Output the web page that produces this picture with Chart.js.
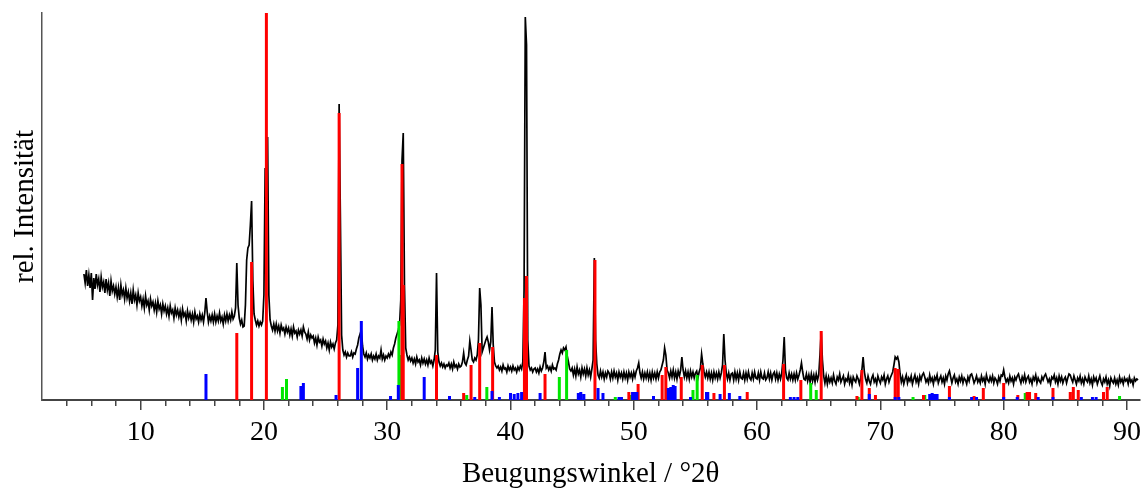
<!DOCTYPE html>
<html><head><meta charset="utf-8">
<script src="https://cdn.jsdelivr.net/npm/chart.js@4.4.1/dist/chart.umd.min.js"></script>
<style>html,body{margin:0;padding:0;background:#fff;}canvas{display:block;}</style>
</head><body>
<canvas id="c" width="1147" height="492"></canvas>
<script>
// Measured scan: start angle and step (°2θ), intensities in arbitrary units
const scanStart = 5.4;
const scanStep = 0.1;
const scanIntensity = [
 126,117,130,114,125,112,
 127,100,122,111,126,115,121,108,123,113,
 118,107,121,110,117,104,119,109,114,106,
 113,103,112,100,115,105,110,101,112,102,
 108,99,107,96,110,100,105,95,107,99,
 103,94,101,92,104,95,99,90,101,94,
 98,90,97,88,99,91,95,86,96,89,
 94,86,92,84,94,87,90,82,92,85,
 90,83,89,80,91,84,87,79,89,82,
 87,80,86,78,88,81,84,78,86,80,
 85,78,87,102,88,78,84,79,85,78,
 86,78,84,79,87,79,83,76,85,79,
 86,79,85,80,88,81,84,92,137,95,
 82,76,80,73,74,95,140,152,155,175,
 199,120,86,80,75,79,74,78,75,79,
 105,232,200,263,105,80,74,70,76,69,
 76,69,74,67,75,70,72,66,73,68,
 72,65,71,64,73,67,69,63,70,66,
 70,64,73,68,66,61,68,60,65,62,
 64,57,62,55,63,58,60,54,61,56,
 59,52,57,50,58,53,56,51,57,60,
 75,296,185,65,50,45,48,43,47,44,
 44,48,43,47,46,51,55,62,66,70,
 54,46,43,47,41,45,42,46,40,44,
 41,46,40,44,42,50,41,45,40,44,
 42,46,43,48,45,52,56,62,66,70,
 75,100,240,267,115,52,45,40,43,39,
 42,37,41,36,43,38,40,35,42,37,
 41,36,40,35,42,37,39,34,40,50,
 127,48,38,34,37,33,36,32,35,34,
 37,32,36,31,38,33,35,31,36,33,
 34,38,47,37,35,40,44,59,50,40,
 38,42,40,45,60,112,95,48,52,56,
 60,63,58,50,58,93,55,38,34,32,
 34,30,33,29,35,31,32,28,34,30,
 33,29,34,30,32,28,33,30,34,31,
 38,110,383,355,60,34,30,32,28,31,
 32,28,31,27,33,29,32,38,48,32,
 34,30,33,29,35,31,32,30,36,40,
 46,50,47,52,50,53,44,38,31,29,
 32,25,31,24,33,26,30,23,32,26,
 31,24,32,25,30,23,31,40,142,60,
 36,25,22,29,23,28,21,27,23,29,
 27,21,28,22,29,23,27,20,28,23,
 27,21,28,22,27,20,28,23,27,21,
 28,23,29,32,37,27,22,28,21,27,
 22,28,21,27,20,28,22,27,21,28,
 22,28,30,35,40,52,45,30,27,22,
 29,23,30,22,28,21,29,24,30,43,
 30,23,29,22,28,21,29,23,28,22,
 27,29,22,28,32,46,36,28,23,28,
 22,28,21,27,20,28,22,27,21,28,
 22,27,35,66,40,27,21,27,20,26,
 27,20,28,21,27,20,28,22,21,27,
 20,27,21,28,22,20,27,21,28,22,
 21,27,20,28,22,21,27,20,22,28,
 21,27,20,26,28,21,27,20,26,21,
 27,40,63,30,22,20,27,21,26,20,
 26,20,27,21,25,30,37,28,21,20,
 26,19,25,18,26,19,25,18,26,20,
 25,45,68,40,24,17,24,16,23,18,
 22,17,25,19,16,23,20,26,18,21,
 24,16,21,19,25,17,22,15,23,20,
 18,24,21,16,22,30,43,28,21,17,
 24,19,16,22,25,18,21,16,24,20,
 17,23,20,25,16,21,24,18,22,25,
 28,35,43,41,43,38,26,18,23,16,
 21,25,17,22,19,24,16,21,25,18,
 22,16,24,20,25,27,23,18,21,17,
 25,19,22,16,23,20,25,17,21,24,
 18,22,16,24,20,26,29,23,17,22,
 25,18,21,16,23,19,24,17,22,20,
 16,23,19,25,26,22,17,20,24,18,
 21,17,24,19,22,16,25,20,18,23,
 19,24,17,22,20,16,23,19,25,24,
 30,23,18,21,17,24,19,22,16,23,
 20,24,26,21,17,23,19,25,18,22,
 24,18,21,16,23,20,25,17,22,19,
 17,23,20,24,26,22,18,21,16,23,
 21,25,18,22,16,24,19,23,17,21,
 23,17,22,26,25,21,18,24,20,16,
 22,19,24,17,21,16,23,20,18,24,
 17,21,15,23,19,22,16,20,24,18,
 15,21,18,23,16,20,14,22,19,17,
 22,16,20,15,23,18,21,16,22,19,
 21,16,23,18,20,15,22,19,21,20
];

// Reference patterns (stick positions °2θ and heights)
const redAngles  = [17.8,19.0,20.2,26.1,31.2,31.3,34.0,36.2,36.8,37.5,38.55,41.13,41.3,42.8,46.85,49.6,50.35,52.3,52.6,53.85,55.55,56.5,57.35,59.2,62.15,63.55,65.2,68.1,68.5,69.1,69.6,71.2,71.45,73.5,75.6,77.6,78.35,80.0,81.15,81.9,82.1,82.6,84.0,85.4,85.65,86.05,88.1,88.4];
const redHeights = [67,138,387,287,236,115,45,7,35,57,53,102,124,26,140,8,16,25,33,23,35,7,35,8,36,20,69,4,30,12,5,32,31,5,14,4,12,17,5,8,8,7,12,8,13,10,8,13];

const blueAngles  = [15.3,23.0,23.2,25.85,27.6,27.9,30.27,30.9,33.0,35.05,37.1,38.5,39.1,40.0,40.3,40.6,40.9,42.4,45.5,45.7,45.95,47.1,47.5,48.8,49.0,49.9,50.1,50.25,51.6,52.8,53.0,53.2,53.35,54.6,55.9,56.0,57.0,57.75,58.6,62.7,63.0,63.3,69.1,71.2,71.5,74.0,74.2,74.4,74.6,75.6,77.4,77.8,80.0,81.1,82.8,84.0,86.3,87.2,87.5];
const blueHeights = [26,14,17,5,32,79,4,15,23,4,3,9,3,7,6,7,8,7,7,8,6,12,7,3,3,8,8,8,4,12,13,15,14,3,8,8,6,7,4,3,3,3,6,3,3,6,7,6,6,3,3,3,3,3,3,3,3,3,3];

const greenAngles  = [21.5,21.83,30.95,31.05,36.45,38.08,43.96,44.55,48.5,49.8,50.0,54.8,55.14,64.35,64.8,68.2,72.65,73.6,81.75,89.4];
const greenHeights = [13,21,79,45,5,13,23,50,3,5,8,10,25,17,10,3,3,5,7,4];

const majorTicks = [10,20,30,40,50,60,70,80,90];
const tickLabels = ['10','20','30','40','50','60','70','80','90'];
const minorTicks = [4,6,8,12,14,16,18,22,24,26,28,32,34,36,38,42,44,46,48,52,54,56,58,62,64,66,68,72,74,76,78,82,84,86,88];
const xTitle = 'Beugungswinkel / °2θ';
const yTitle = 'rel. Intensität';

const scanPoints = scanIntensity.map((v, i) => ({ x: +(scanStart + i * scanStep).toFixed(2), y: v }));
function sticks(angles, heights) {
  const pts = [];
  angles.forEach((a, i) => { pts.push({ x: a, y: 0 }, { x: a, y: heights[i] }, { x: a, y: null }); });
  return pts;
}
const serif = 'Liberation Serif';
const stickStyle = { borderWidth: 3, pointRadius: 0, borderCapStyle: 'butt', spanGaps: false, fill: false };

new Chart(document.getElementById('c').getContext('2d'), {
  type: 'line',
  data: {
    datasets: [
      Object.assign({ label: 'blue', data: sticks(blueAngles, blueHeights), borderColor: '#0000ff', order: 1 }, stickStyle),
      Object.assign({ label: 'red', data: sticks(redAngles, redHeights), borderColor: '#ff0000', order: 2 }, stickStyle),
      Object.assign({ label: 'green', data: sticks(greenAngles, greenHeights), borderColor: '#00e600', order: 3 }, stickStyle),
      { label: 'scan', data: scanPoints, borderColor: '#000000', borderWidth: 1.7, pointRadius: 0, fill: false, order: 4 }
    ]
  },
  options: {
    responsive: false, animation: false, devicePixelRatio: 1,
    layout: { padding: { top: 13, right: 4, left: 0, bottom: 0 } },
    plugins: { legend: { display: false }, tooltip: { enabled: false } },
    scales: {
      x: {
        type: 'linear', position: 'bottom', min: 2, max: 91,
        afterFit: s => { s.height = 92; },
        afterBuildTicks: s => { s.ticks = majorTicks.map(v => ({ value: v })); },
        ticks: { font: { family: serif, size: 28 }, color: '#000', padding: 6, maxRotation: 0, autoSkip: false,
                 callback: (v, i) => tickLabels[i] },
        grid: { display: true, drawOnChartArea: false, drawTicks: true, tickLength: 10, color: '#444', lineWidth: 1.5 },
        border: { display: true, color: '#444', width: 2 },
        title: { display: true, text: xTitle, font: { family: serif, size: 29 }, color: '#000', padding: { top: 0, bottom: 0 } }
      },
      xMinor: {
        type: 'linear', axis: 'x', position: { y: 0 }, min: 2, max: 91,
        afterBuildTicks: s => { s.ticks = minorTicks.map(v => ({ value: v })); },
        ticks: { display: false },
        grid: { display: true, drawOnChartArea: false, drawTicks: true, tickLength: 6, color: '#444', lineWidth: 1.5 },
        border: { display: false }
      },
      y: {
        type: 'linear', min: 0, max: 387,
        afterFit: s => { s.width = 42; },
        ticks: { display: false },
        grid: { display: false },
        border: { display: true, color: '#555', width: 1.5 },
        title: { display: true, text: yTitle, font: { family: serif, size: 29 }, color: '#000', padding: { top: 8, bottom: 0 } }
      }
    }
  }
});
</script>
</body></html>
